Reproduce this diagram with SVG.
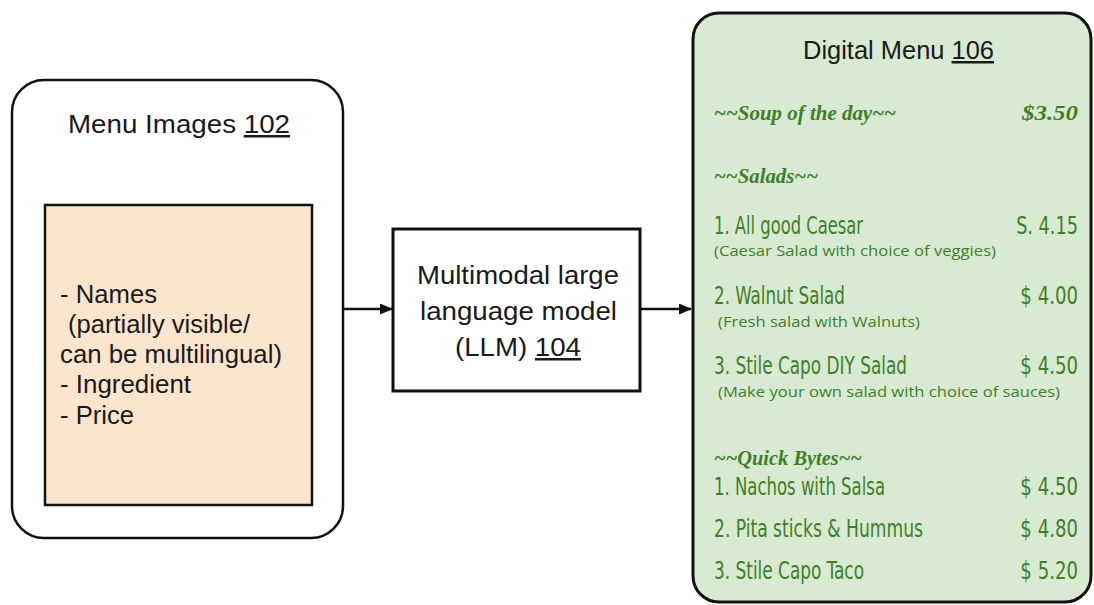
<svg xmlns="http://www.w3.org/2000/svg" width="1094" height="605" viewBox="0 0 1094 605">
<defs>
<style>
.lbl{font-family:"Liberation Sans",Arial,sans-serif;font-size:25px;fill:#1a1a1a}
.u{text-decoration:underline}
.scr{font-family:"Liberation Serif","DejaVu Serif",serif;font-style:italic;font-weight:bold;font-size:22px;fill:#3f8027}
.item{font-family:"Liberation Sans Narrow","DejaVu Sans Condensed","Roboto",sans-serif;font-size:24px;fill:#3f8027}
.pr{font-family:"Liberation Sans Narrow","DejaVu Sans Condensed","Roboto",sans-serif;font-size:24px;fill:#3f8027;text-anchor:end}
.sub{font-family:"Open Sans","Noto Sans",sans-serif;font-size:14px;fill:#3f8027}
.conn{stroke:#111;stroke-width:2.5;fill:none}
</style>
<marker id="ah" markerWidth="13" markerHeight="11" refX="12" refY="5.5" orient="auto" markerUnits="userSpaceOnUse" viewBox="0 0 13 11">
<path d="M0,0 L13,5.5 L0,11 z" fill="#111"/>
</marker>
</defs>
<rect width="1094" height="605" fill="#fff"/>

<g id="menu-images">
<rect x="12" y="80" width="331" height="458" rx="32" fill="#fff" stroke="#111" stroke-width="2.5"/>
<text class="lbl" x="68" y="133" textLength="222" lengthAdjust="spacingAndGlyphs">Menu Images <tspan class="u">102</tspan></text>
<rect x="45" y="205" width="267" height="300" fill="#fce5cd" stroke="#111" stroke-width="2.5"/>
<text class="lbl" x="60" y="303" textLength="97" lengthAdjust="spacingAndGlyphs">- Names</text>
<text class="lbl" x="68" y="333" textLength="182" lengthAdjust="spacingAndGlyphs">(partially visible/</text>
<text class="lbl" x="60" y="363" textLength="222" lengthAdjust="spacingAndGlyphs">can be multilingual)</text>
<text class="lbl" x="60" y="393" textLength="131" lengthAdjust="spacingAndGlyphs">- Ingredient</text>
<text class="lbl" x="60" y="424" textLength="74" lengthAdjust="spacingAndGlyphs">- Price</text>
</g>

<g id="llm">
<rect x="393" y="229" width="247" height="162" fill="#fff" stroke="#111" stroke-width="3"/>
<text class="lbl" x="417" y="284" textLength="202" lengthAdjust="spacingAndGlyphs">Multimodal large</text>
<text class="lbl" x="420" y="320" textLength="197" lengthAdjust="spacingAndGlyphs">language model</text>
<text class="lbl" x="455" y="356" textLength="126" lengthAdjust="spacingAndGlyphs">(LLM) <tspan class="u">104</tspan></text>
</g>

<g id="digital-menu">
<rect x="693" y="13" width="398" height="589" rx="26" fill="#d9ead3" stroke="#111" stroke-width="3"/>
<text class="lbl" x="803" y="59" textLength="191" lengthAdjust="spacingAndGlyphs">Digital Menu <tspan class="u">106</tspan></text>
<text class="scr" x="714" y="120" textLength="182" lengthAdjust="spacingAndGlyphs">~~Soup of the day~~</text>
<text class="scr" x="1078" y="120" text-anchor="end" textLength="56" lengthAdjust="spacingAndGlyphs">$3.50</text>
<text class="scr" x="714" y="183" textLength="104" lengthAdjust="spacingAndGlyphs">~~Salads~~</text>
<text class="item" x="714" y="234" textLength="149" lengthAdjust="spacingAndGlyphs">1. All good Caesar</text>
<text class="pr" transform="translate(1078,234) scale(0.82,1)">S. 4.15</text>
<text class="sub" x="714" y="256" textLength="282" lengthAdjust="spacingAndGlyphs">(Caesar Salad with choice of veggies)</text>
<text class="item" x="714" y="304" textLength="131" lengthAdjust="spacingAndGlyphs">2. Walnut Salad</text>
<text class="pr" transform="translate(1078,304) scale(0.84,1)">$ 4.00</text>
<text class="sub" x="718" y="327" textLength="202" lengthAdjust="spacingAndGlyphs">(Fresh salad with Walnuts)</text>
<text class="item" x="714" y="374" textLength="193" lengthAdjust="spacingAndGlyphs">3. Stile Capo DIY Salad</text>
<text class="pr" transform="translate(1078,374) scale(0.84,1)">$ 4.50</text>
<text class="sub" x="718" y="397" textLength="342" lengthAdjust="spacingAndGlyphs">(Make your own salad with choice of sauces)</text>
<text class="scr" x="714" y="465" textLength="148" lengthAdjust="spacingAndGlyphs">~~Quick Bytes~~</text>
<text class="item" x="714" y="495" textLength="171" lengthAdjust="spacingAndGlyphs">1. Nachos with Salsa</text>
<text class="pr" transform="translate(1078,495) scale(0.84,1)">$ 4.50</text>
<text class="item" x="714" y="537" textLength="209" lengthAdjust="spacingAndGlyphs">2. Pita sticks &amp; Hummus</text>
<text class="pr" transform="translate(1078,537) scale(0.84,1)">$ 4.80</text>
<text class="item" x="714" y="579" textLength="150" lengthAdjust="spacingAndGlyphs">3. Stile Capo Taco</text>
<text class="pr" transform="translate(1078,579) scale(0.84,1)">$ 5.20</text>
</g>

<g id="connectors">
<line class="conn" x1="343" y1="309" x2="392" y2="309" marker-end="url(#ah)"/>
<line class="conn" x1="640" y1="309" x2="691" y2="309" marker-end="url(#ah)"/>
</g>
</svg>
